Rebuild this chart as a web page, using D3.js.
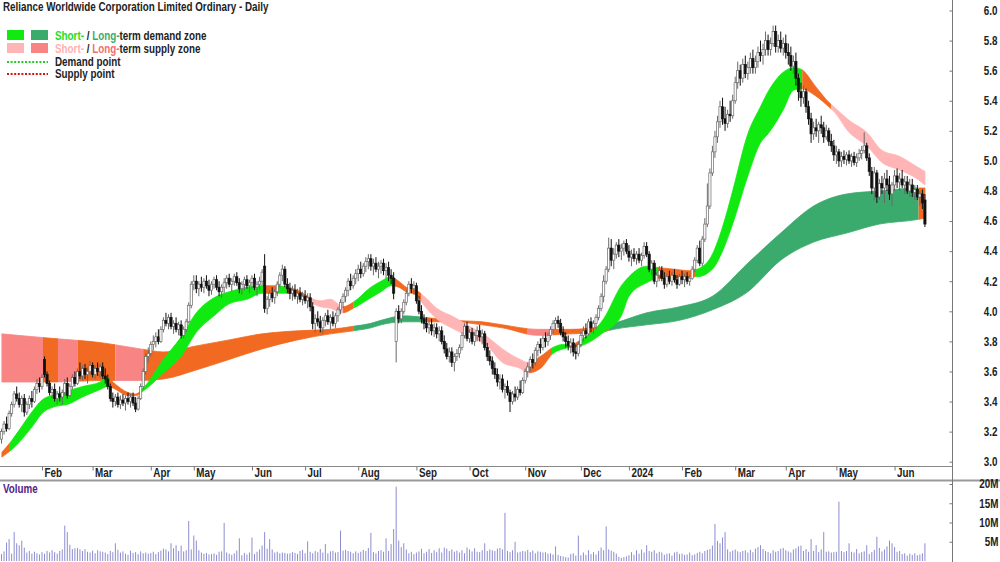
<!DOCTYPE html>
<html>
<head>
<meta charset="utf-8">
<script src="https://cdn.jsdelivr.net/npm/d3@7"></script>
<style>
body { margin: 0; background: #fff; }
svg { display: block; font-family: "Liberation Sans", Arial, sans-serif; font-weight: bold; }
</style>
</head>
<body>
<svg id="chart" width="1000" height="562"></svg>
<script>
// month ticks (trading-day index of first session of each month)
var monthIdx = [16, 36, 59, 76, 99, 120, 141, 164, 185, 207, 229, 248, 269, 290, 310, 330, 353];
var monthLabels = ["Feb", "Mar", "Apr", "May", "Jun", "Jul", "Aug", "Sep", "Oct", "Nov", "Dec", "2024", "Feb", "Mar", "Apr", "May", "Jun"];
var priceTicks = [3.0, 3.2, 3.4, 3.6, 3.8, 4.0, 4.2, 4.4, 4.6, 4.8, 5.0, 5.2, 5.4, 5.6, 5.8, 6.0];
var volTicks = [5, 10, 15, 20];

// daily candles [open, high, low, close]
var ohlc = [
[3.15,3.22,3.12,3.20],[3.20,3.27,3.18,3.25],[3.25,3.30,3.20,3.22],[3.22,3.34,3.21,3.32],[3.32,3.40,3.30,3.38],
[3.38,3.47,3.36,3.45],[3.45,3.50,3.40,3.42],[3.42,3.46,3.36,3.38],[3.38,3.44,3.33,3.42],[3.42,3.45,3.30,3.33],
[3.33,3.40,3.31,3.38],[3.38,3.44,3.35,3.42],[3.42,3.47,3.36,3.40],[3.40,3.50,3.39,3.48],[3.48,3.55,3.45,3.52],
[3.52,3.56,3.46,3.50],
[3.50,3.58,3.48,3.56],[3.68,3.70,3.56,3.58],[3.58,3.60,3.50,3.52],[3.52,3.54,3.44,3.46],[3.46,3.50,3.42,3.48],
[3.48,3.52,3.40,3.42],[3.42,3.47,3.38,3.45],[3.45,3.50,3.40,3.43],[3.43,3.48,3.38,3.46],[3.46,3.55,3.44,3.52],
[3.52,3.56,3.42,3.44],[3.44,3.52,3.43,3.50],[3.50,3.58,3.48,3.56],[3.56,3.60,3.50,3.52],[3.52,3.62,3.51,3.60],
[3.60,3.66,3.55,3.57],[3.57,3.64,3.54,3.62],[3.62,3.65,3.55,3.58],[3.58,3.63,3.52,3.60],[3.60,3.67,3.58,3.64],
[3.64,3.66,3.56,3.58],[3.58,3.64,3.55,3.62],[3.62,3.66,3.57,3.60],[3.60,3.65,3.56,3.63],[3.63,3.66,3.55,3.57],
[3.57,3.62,3.52,3.55],[3.55,3.58,3.48,3.50],[3.50,3.52,3.40,3.42],[3.42,3.46,3.36,3.40],[3.40,3.45,3.37,3.43],
[3.43,3.46,3.36,3.38],[3.38,3.44,3.35,3.41],[3.41,3.45,3.37,3.39],[3.39,3.44,3.34,3.42],[3.42,3.46,3.38,3.40],
[3.40,3.45,3.36,3.43],[3.43,3.46,3.37,3.39],[3.39,3.43,3.33,3.35],[3.35,3.44,3.34,3.42],[3.42,3.52,3.41,3.50],
[3.50,3.62,3.48,3.60],[3.60,3.72,3.58,3.70],[3.70,3.76,3.66,3.72],
[3.72,3.80,3.70,3.78],[3.78,3.84,3.74,3.80],[3.80,3.86,3.76,3.83],[3.83,3.88,3.78,3.80],[3.80,3.90,3.79,3.88],
[3.88,3.96,3.86,3.94],[3.94,3.99,3.90,3.92],[3.92,3.98,3.88,3.96],[3.96,3.99,3.88,3.90],[3.90,3.94,3.85,3.92],
[3.92,3.96,3.86,3.88],[3.88,3.93,3.84,3.91],[3.91,3.94,3.82,3.84],[3.84,3.90,3.82,3.88],[3.88,3.95,3.86,3.93],
[3.93,4.06,3.92,4.04],[4.04,4.20,4.02,4.18],
[4.18,4.24,4.14,4.20],[4.20,4.24,4.12,4.15],[4.15,4.20,4.10,4.18],[4.18,4.23,4.13,4.16],[4.16,4.22,4.12,4.20],
[4.20,4.24,4.15,4.17],[4.17,4.21,4.10,4.14],[4.14,4.20,4.11,4.18],[4.18,4.23,4.15,4.21],[4.21,4.24,4.14,4.16],
[4.16,4.20,4.10,4.13],[4.13,4.18,4.09,4.16],[4.16,4.22,4.12,4.19],[4.19,4.24,4.15,4.22],[4.22,4.25,4.16,4.18],
[4.18,4.22,4.13,4.20],[4.20,4.25,4.17,4.23],[4.23,4.26,4.17,4.19],[4.19,4.22,4.12,4.15],[4.15,4.20,4.11,4.18],
[4.18,4.23,4.14,4.21],[4.21,4.24,4.15,4.17],[4.17,4.21,4.12,4.19],
[4.19,4.24,4.15,4.22],[4.22,4.25,4.14,4.16],[4.16,4.20,4.10,4.18],[4.18,4.23,4.14,4.20],[4.20,4.28,4.17,4.26],
[4.30,4.38,3.99,4.02],[4.02,4.10,3.98,4.08],[4.08,4.14,4.03,4.12],[4.12,4.16,4.06,4.09],[4.09,4.15,4.05,4.13],
[4.13,4.20,4.10,4.18],[4.18,4.26,4.16,4.24],[4.24,4.31,4.20,4.28],[4.28,4.30,4.16,4.18],[4.18,4.22,4.12,4.15],
[4.15,4.19,4.08,4.12],[4.12,4.17,4.07,4.14],[4.14,4.18,4.08,4.10],[4.10,4.15,4.05,4.12],[4.12,4.16,4.06,4.08],
[4.08,4.13,4.04,4.10],
[4.10,4.14,4.05,4.07],[4.07,4.12,4.02,4.09],[4.09,4.12,4.00,4.03],[4.03,4.06,3.88,3.92],[3.92,3.98,3.86,3.95],
[3.95,4.00,3.90,3.93],[3.93,3.97,3.86,3.89],[3.89,3.96,3.85,3.94],[3.94,3.99,3.90,3.97],[3.97,4.01,3.91,3.93],
[3.93,3.98,3.88,3.96],[3.96,4.00,3.90,3.92],[3.92,3.99,3.89,3.97],[3.97,4.03,3.93,4.01],[4.01,4.08,3.98,4.06],
[4.06,4.12,4.02,4.10],[4.10,4.16,4.06,4.14],[4.14,4.22,4.10,4.20],[4.20,4.25,4.14,4.17],[4.17,4.24,4.15,4.22],
[4.22,4.28,4.18,4.25],
[4.25,4.31,4.20,4.28],[4.28,4.33,4.22,4.25],[4.25,4.32,4.23,4.30],[4.30,4.36,4.26,4.33],[4.33,4.38,4.28,4.35],
[4.35,4.38,4.27,4.30],[4.30,4.35,4.24,4.32],[4.32,4.36,4.26,4.28],[4.28,4.33,4.22,4.30],[4.30,4.34,4.25,4.32],
[4.32,4.35,4.24,4.27],[4.27,4.32,4.22,4.29],[4.29,4.33,4.20,4.24],[4.24,4.28,4.18,4.22],[4.22,4.26,4.08,4.12],
[3.80,4.02,3.66,4.00],[4.00,4.04,3.92,3.95],[3.95,4.02,3.92,4.00],[4.00,4.08,3.98,4.06],[4.06,4.14,4.04,4.12],
[4.12,4.20,4.10,4.18],[4.18,4.22,4.12,4.15],[4.15,4.20,4.11,4.17],
[4.17,4.19,4.05,4.07],[4.07,4.10,3.98,4.00],[4.00,4.04,3.92,3.95],[3.95,3.98,3.88,3.92],[3.92,3.96,3.86,3.89],
[3.89,3.94,3.85,3.91],[3.91,3.95,3.84,3.87],[3.87,3.92,3.83,3.89],[3.89,3.92,3.82,3.85],[3.85,3.90,3.80,3.87],
[3.87,3.90,3.78,3.80],[3.80,3.84,3.72,3.75],[3.75,3.79,3.68,3.70],[3.70,3.76,3.66,3.73],[3.73,3.76,3.63,3.66],
[3.66,3.72,3.60,3.70],[3.70,3.75,3.67,3.72],[3.72,3.78,3.69,3.76],[3.76,3.86,3.74,3.84],[3.84,3.92,3.82,3.90],
[3.90,3.93,3.80,3.82],
[3.82,3.88,3.79,3.86],[3.86,3.89,3.78,3.80],[3.80,3.86,3.77,3.84],[3.84,3.90,3.80,3.87],[3.87,3.91,3.80,3.83],
[3.83,3.88,3.78,3.85],[3.85,3.87,3.74,3.76],[3.76,3.79,3.67,3.70],[3.70,3.74,3.64,3.67],[3.67,3.70,3.58,3.62],
[3.62,3.66,3.55,3.58],[3.58,3.62,3.50,3.53],[3.53,3.58,3.48,3.55],[3.55,3.58,3.46,3.48],[3.48,3.52,3.42,3.50],
[3.50,3.54,3.44,3.46],[3.46,3.48,3.33,3.40],[3.40,3.47,3.38,3.45],[3.45,3.50,3.40,3.43],[3.43,3.50,3.41,3.48],
[3.48,3.54,3.44,3.46],[3.46,3.56,3.45,3.54],
[3.54,3.62,3.52,3.60],[3.60,3.66,3.56,3.63],[3.63,3.70,3.60,3.68],[3.68,3.72,3.62,3.66],[3.66,3.76,3.64,3.74],
[3.74,3.80,3.70,3.78],[3.78,3.82,3.72,3.76],[3.76,3.84,3.74,3.82],[3.82,3.86,3.76,3.80],[3.80,3.86,3.77,3.84],
[3.84,3.90,3.81,3.88],[3.88,3.94,3.85,3.92],[3.92,3.96,3.88,3.94],[3.94,3.97,3.89,3.92],[3.92,3.95,3.84,3.86],
[3.86,3.90,3.80,3.83],[3.83,3.86,3.76,3.80],[3.80,3.84,3.74,3.77],[3.77,3.82,3.72,3.79],[3.79,3.82,3.70,3.73],
[3.73,3.78,3.68,3.72],[3.72,3.80,3.70,3.78],
[3.78,3.86,3.76,3.84],[3.84,3.90,3.80,3.87],[3.87,3.92,3.82,3.85],[3.85,3.95,3.84,3.93],[3.93,3.96,3.86,3.89],
[3.89,3.94,3.85,3.92],[3.92,3.98,3.88,3.96],[3.96,4.04,3.94,4.02],[4.02,4.12,4.00,4.10],[4.10,4.24,4.06,4.20],
[4.20,4.30,4.18,4.28],[4.28,4.49,4.26,4.42],[4.42,4.48,4.30,4.34],[4.34,4.42,4.28,4.38],[4.38,4.46,4.35,4.44],
[4.44,4.48,4.36,4.40],[4.40,4.45,4.34,4.42],[4.42,4.47,4.37,4.45],[4.45,4.48,4.38,4.40],
[4.40,4.44,4.33,4.36],[4.36,4.41,4.30,4.38],[4.38,4.42,4.33,4.35],[4.35,4.40,4.31,4.38],[4.38,4.42,4.32,4.34],
[4.34,4.39,4.30,4.37],[4.37,4.46,4.35,4.43],[4.43,4.46,4.36,4.38],[4.38,4.40,4.26,4.28],[4.28,4.34,4.24,4.32],
[4.32,4.34,4.18,4.20],[4.20,4.26,4.16,4.24],[4.24,4.30,4.20,4.27],[4.27,4.30,4.20,4.22],[4.22,4.26,4.15,4.18],
[4.18,4.25,4.16,4.23],[4.23,4.27,4.18,4.20],[4.20,4.26,4.17,4.24],[4.24,4.28,4.19,4.21],[4.21,4.24,4.15,4.18],
[4.18,4.25,4.17,4.23],
[4.23,4.27,4.18,4.21],[4.21,4.25,4.16,4.23],[4.23,4.26,4.18,4.20],[4.20,4.24,4.17,4.22],[4.22,4.30,4.21,4.28],
[4.28,4.36,4.26,4.34],[4.34,4.44,4.32,4.42],[4.42,4.47,4.30,4.32],[4.32,4.50,4.30,4.48],[4.48,4.62,4.46,4.58],
[4.58,4.85,4.56,4.70],[4.70,4.95,4.68,4.92],[4.92,5.10,4.90,5.06],[5.06,5.20,5.02,5.16],[5.16,5.30,5.12,5.26],
[5.26,5.40,5.22,5.36],[5.36,5.42,5.24,5.28],[5.28,5.36,5.20,5.25],[5.25,5.34,5.22,5.31],[5.31,5.40,5.26,5.30],
[5.30,5.44,5.28,5.40],
[5.40,5.56,5.38,5.52],[5.52,5.66,5.48,5.60],[5.60,5.64,5.50,5.55],[5.55,5.68,5.52,5.64],[5.64,5.70,5.55,5.58],
[5.58,5.66,5.54,5.62],[5.62,5.72,5.58,5.68],[5.68,5.74,5.58,5.62],[5.62,5.70,5.58,5.66],[5.66,5.76,5.62,5.72],
[5.72,5.80,5.66,5.70],[5.70,5.78,5.64,5.74],[5.74,5.86,5.70,5.80],[5.80,5.84,5.70,5.74],[5.74,5.82,5.70,5.78],
[5.78,5.90,5.76,5.86],[5.86,5.90,5.72,5.76],[5.76,5.84,5.72,5.80],[5.80,5.86,5.72,5.75],[5.75,5.82,5.70,5.78],
[5.78,5.84,5.68,5.72],[5.72,5.78,5.64,5.70],[5.70,5.76,5.60,5.63],[5.63,5.70,5.58,5.66],[5.66,5.72,5.50,5.55],
[5.55,5.58,5.40,5.46],[5.46,5.52,5.36,5.42],[5.42,5.50,5.38,5.46],[5.46,5.48,5.32,5.36],[5.36,5.40,5.24,5.28],
[5.28,5.32,5.12,5.18],[5.18,5.26,5.14,5.22],[5.22,5.28,5.16,5.20],[5.20,5.26,5.12,5.24],[5.24,5.30,5.18,5.22],
[5.22,5.26,5.12,5.16],[5.16,5.24,5.14,5.20],[5.20,5.22,5.10,5.13],[5.13,5.18,5.06,5.10],[5.10,5.14,5.00,5.04],
[5.04,5.10,4.98,5.06],[5.06,5.08,4.96,5.00],[5.00,5.06,4.96,5.03],[5.03,5.07,4.98,5.01],[5.01,5.06,4.97,5.04],
[5.04,5.07,4.98,5.00],[5.00,5.05,4.96,5.03],[5.03,5.06,4.97,4.99],[4.99,5.05,4.96,5.02],[5.02,5.08,5.00,5.05],
[5.05,5.10,5.01,5.07],[5.07,5.19,5.05,5.10],[5.10,5.12,5.00,5.02],[5.02,5.05,4.90,4.93],[4.93,4.96,4.78,4.82],
[4.82,4.96,4.74,4.92],[4.92,4.94,4.72,4.76],[4.76,4.88,4.74,4.85],[4.85,4.90,4.78,4.82],[4.82,4.92,4.72,4.88],
[4.88,4.94,4.80,4.84],[4.84,4.90,4.74,4.78],[4.78,4.86,4.70,4.84],
[4.84,4.94,4.80,4.90],[4.90,4.95,4.82,4.86],[4.86,4.92,4.80,4.88],[4.88,4.94,4.82,4.84],[4.84,4.90,4.78,4.86],
[4.86,4.90,4.78,4.80],[4.80,4.88,4.76,4.84],[4.84,4.88,4.76,4.79],[4.79,4.84,4.74,4.81],[4.81,4.84,4.74,4.76],
[4.76,4.80,4.70,4.78],[4.78,4.81,4.68,4.72],[4.74,4.78,4.56,4.58]
];

// daily volume, millions
var volume = [
1.8,2.5,4.8,5.7,1.9,7.5,4.6,4.1,5.3,3.5,2.2,2.6,1.9,2.4,2.0,1.7,2.3,1.9,2.6,2.2,
2.8,2.3,1.9,2.6,3.0,9.2,7.5,4.2,3.1,3.3,3.4,3.0,2.6,3.1,2.4,2.2,2.7,2.0,2.8,2.5,
2.4,2.2,1.8,2.6,2.3,4.6,2.9,2.2,2.5,1.9,1.6,2.7,2.1,2.3,1.8,2.5,2.0,2.2,1.9,2.1,
2.4,1.8,2.3,2.7,3.2,3.0,2.5,4.6,3.3,4.1,2.6,4.0,2.5,2.8,10.4,3.0,6.6,5.3,2.8,2.2,
1.9,2.1,1.7,1.8,2.0,1.6,2.4,2.5,9.9,2.2,1.9,1.6,2.0,2.7,5.9,1.5,2.1,1.7,2.2,6.1,
1.8,2.4,3.0,4.0,7.5,3.2,5.7,3.0,2.2,2.4,2.0,2.2,2.1,1.9,2.0,2.3,2.1,1.8,2.6,2.9,
2.0,5.1,2.4,2.0,2.6,2.3,3.1,2.2,4.4,2.0,2.5,2.6,2.2,2.3,7.9,2.7,2.9,2.6,2.4,2.0,
2.5,2.1,2.4,2.9,2.6,3.4,7.3,2.3,2.0,2.6,2.8,2.4,5.9,2.6,4.4,8.3,19.3,5.3,3.6,4.6,
3.0,2.0,2.4,1.8,2.2,2.5,3.2,2.0,2.4,3.1,2.1,2.8,2.3,3.3,2.2,3.5,3.2,2.6,3.0,2.4,
2.7,2.2,2.8,2.0,3.5,3.0,2.5,3.3,2.4,2.3,2.8,4.6,2.6,3.0,2.8,2.6,3.2,3.4,3.0,12.5,
2.6,2.3,2.8,5.0,2.2,2.4,2.6,2.5,2.9,2.3,2.7,2.0,2.5,2.4,2.2,2.3,1.9,2.0,1.7,3.8,
1.6,1.3,1.2,1.0,0.9,1.8,2.0,1.4,6.6,1.5,2.2,1.6,2.8,1.8,2.3,1.7,2.6,3.5,2.8,9.0,
3.0,2.7,2.4,1.9,1.1,0.8,1.0,1.2,1.5,2.3,1.6,2.8,1.9,3.0,2.2,4.1,2.6,2.4,2.8,2.0,
2.4,2.2,1.6,1.9,2.0,1.4,2.2,2.4,1.8,1.9,1.6,1.7,2.2,1.5,1.7,2.1,2.4,2.0,2.6,2.9,
3.1,4.0,9.6,5.2,4.6,6.1,7.5,3.0,2.4,2.7,3.0,2.5,2.3,2.6,2.8,2.2,2.9,2.3,3.2,3.6,
4.1,3.1,2.6,2.3,2.0,2.8,2.4,2.6,3.2,3.4,2.8,2.5,2.2,3.0,3.3,3.8,4.0,2.6,3.1,2.4,
5.7,2.6,4.1,2.3,3.0,7.5,2.4,2.5,2.2,2.3,2.4,15.4,2.6,2.3,2.6,4.6,2.4,2.2,3.1,2.0,
2.3,2.5,4.1,1.8,2.3,2.9,6.3,3.4,2.5,3.0,3.8,5.3,4.6,3.6,2.4,2.6,1.8,2.0,1.4,1.9,
1.6,2.0,1.5,1.7,2.0,4.6
];

// short-term zone: index, upper edge, lower edge
var stIdx   = [0,4,7,12,16,22,26,32,39,42,44,50,53,56,64,71,77,84,90,97,103,109,113,117,121,126,130,135,139,146,150,154,157,160,164,167,172,179,185,192,198,205,208,213,218,222,225,229,238,245,248,255,260,266,272,275,281,285,289,295,300,303,309,313,316,322,327,329,335,342,348,355,362,365];
var stUpper = [3.06,3.14,3.21,3.33,3.41,3.45,3.47,3.50,3.53,3.56,3.53,3.46,3.45,3.49,3.68,3.83,3.99,4.09,4.13,4.16,4.17,4.17,4.16,4.14,4.10,4.07,4.08,4.03,4.06,4.16,4.20,4.23,4.20,4.16,4.14,4.10,4.02,3.96,3.90,3.83,3.75,3.68,3.66,3.70,3.76,3.78,3.78,3.81,3.95,4.17,4.23,4.30,4.29,4.28,4.27,4.28,4.38,4.56,4.80,5.18,5.36,5.46,5.59,5.62,5.61,5.49,5.39,5.36,5.27,5.19,5.07,5.03,4.96,4.93];
var stLower = [3.03,3.08,3.13,3.23,3.32,3.37,3.38,3.43,3.48,3.50,3.49,3.44,3.44,3.47,3.59,3.70,3.86,3.97,4.05,4.08,4.12,4.12,4.12,4.11,4.07,4.03,4.02,3.99,4.02,4.09,4.13,4.17,4.16,4.13,4.11,4.04,3.95,3.88,3.83,3.77,3.66,3.62,3.59,3.62,3.72,3.75,3.76,3.77,3.86,3.97,4.10,4.19,4.22,4.22,4.23,4.23,4.28,4.40,4.58,4.90,5.12,5.18,5.34,5.47,5.48,5.43,5.36,5.33,5.19,5.10,4.99,4.94,4.88,4.84];
// zone colour by index range: g demand, p supply, o neutral
var stSegs = [[0,3,"o"],[3,42.5,"g"],[42.5,55.5,"o"],[55.5,103.8,"g"],[103.8,108.9,"o"],[108.9,112.8,"g"],[112.8,120.8,"o"],[120.8,135,"p"],[135,139,"o"],[139,154.7,"g"],[154.7,166,"o"],[166,208.5,"p"],[208.5,217.6,"o"],[217.6,224.7,"g"],[224.7,228.7,"o"],[228.7,259.5,"g"],[259.5,274.1,"o"],[274.1,316.5,"g"],[316.5,328,"o"],[328,365.5,"p"]];

// long-term zone
var ltIdx   = [0,20,40,55,64,77,90,103,117,130,139,146,150,159,167,178,190,198,212,225,237,242,255,268,281,295,308,321,334,347,362,365];
var ltUpper = [3.85,3.82,3.79,3.75,3.73,3.77,3.81,3.85,3.87,3.88,3.90,3.92,3.94,3.97,3.96,3.94,3.93,3.91,3.88,3.88,3.90,3.92,3.99,4.03,4.10,4.32,4.52,4.70,4.78,4.80,4.82,4.82];
var ltLower = [3.53,3.53,3.54,3.54,3.55,3.61,3.68,3.75,3.81,3.85,3.87,3.89,3.91,3.93,3.93,3.93,3.91,3.89,3.84,3.85,3.86,3.88,3.91,3.94,4.01,4.13,4.34,4.46,4.52,4.58,4.61,4.62];
var ltSegs = [[0,16.4,"P"],[16.4,22.3,"o"],[22.3,30,"P"],[30,45,"o"],[45,56,"P"],[56,139,"o"],[139,167,"G"],[167,208,"o"],[208,218,"P"],[218,240,"o"],[240,362.5,"G"],[362.5,365.5,"o"]];

var zoneColors = { g: "#10ea10", G: "#3aab6c", p: "#ffb5b5", P: "#f88484", o: "#f26a22" };

var axisX = 952, priceBottom = 466;
var narrow = 0.82; // horizontal squeeze to mimic the narrow bold face
var svg = d3.select("#chart");
var defs = svg.append("defs");

var x = d3.scaleLinear().domain([-0.6, 375.7]).range([0, axisX]);
var y = d3.scaleLinear().domain([3, 6]).range([461.7, 10.5]);
var yv = d3.scaleLinear().domain([0, 20]).range([561, 484]);

function drawZone(g, idx, up, lo, segs, name) {
  var pts = idx.map(function(d, i) { return { i: d, u: up[i], l: lo[i] }; });
  var area = d3.area()
    .x(function(d) { return x(d.i); })
    .y0(function(d) { return y(d.l); })
    .y1(function(d) { return y(d.u); })
    .curve(d3.curveMonotoneX);
  var path = area(pts);
  segs.forEach(function(s, k) {
    var id = name + k;
    defs.append("clipPath").attr("id", id)
      .append("rect")
      .attr("x", x(s[0])).attr("y", 0)
      .attr("width", x(s[1]) - x(s[0])).attr("height", priceBottom);
    g.append("path")
      .attr("d", path)
      .attr("fill", zoneColors[s[2]])
      .attr("stroke", zoneColors[s[2]])
      .attr("stroke-width", 0.8)
      .attr("clip-path", "url(#" + id + ")");
  });
}

var zones = svg.append("g");
drawZone(zones, ltIdx, ltUpper, ltLower, ltSegs, "lt");
drawZone(zones, stIdx, stUpper, stLower, stSegs, "st");

// candles
var candles = svg.append("g").selectAll("g")
  .data(ohlc)
  .enter().append("g");

candles.append("line")
  .attr("x1", function(d, i) { return x(i); })
  .attr("x2", function(d, i) { return x(i); })
  .attr("y1", function(d) { return y(d[1]); })
  .attr("y2", function(d) { return y(d[2]); })
  .attr("stroke", function(d) { return d[3] >= d[0] ? "#6a6a6a" : "#111"; })
  .attr("stroke-width", 1);

candles.append("rect")
  .attr("x", function(d, i) { return x(i) - 1.1; })
  .attr("width", 2.2)
  .attr("y", function(d) { return y(Math.max(d[0], d[3])); })
  .attr("height", function(d) { return Math.max(0.8, Math.abs(y(d[0]) - y(d[3]))); })
  .attr("fill", function(d) { return d[3] >= d[0] ? "#fff" : "#111"; })
  .attr("stroke", function(d) { return d[3] >= d[0] ? "#6a6a6a" : "#111"; })
  .attr("stroke-width", 0.7);

// volume bars
svg.append("g").selectAll("line")
  .data(volume)
  .enter().append("line")
  .attr("x1", function(d, i) { return x(i); })
  .attr("x2", function(d, i) { return x(i); })
  .attr("y1", yv(0))
  .attr("y2", function(d) { return yv(d); })
  .attr("stroke", "#8c8cd0")
  .attr("stroke-width", 1);

// frame lines
svg.append("line").attr("x1", 0).attr("x2", axisX).attr("y1", priceBottom + 0.5).attr("y2", priceBottom + 0.5)
  .attr("stroke", "#888").attr("stroke-width", 1);
svg.append("line").attr("x1", 0).attr("x2", 1000).attr("y1", 480.5).attr("y2", 480.5)
  .attr("stroke", "#999").attr("stroke-width", 2);
svg.append("line").attr("x1", axisX + 0.5).attr("x2", axisX + 0.5).attr("y1", 0).attr("y2", 562)
  .attr("stroke", "#777").attr("stroke-width", 1);

// date axis
var xAxis = svg.append("g")
  .attr("transform", "translate(0," + (priceBottom + 0.5) + ")")
  .call(d3.axisBottom(x).tickValues(monthIdx).tickFormat(function(d, i) { return monthLabels[i]; }).tickSize(4));
xAxis.select(".domain").remove();
xAxis.selectAll(".tick line").attr("stroke", "#777");
xAxis.selectAll(".tick text")
  .attr("text-anchor", "start").attr("x", 0).attr("y", 2).attr("dy", "0.71em")
  .attr("transform", "translate(2,0) scale(" + narrow + ",1)")
  .attr("fill", "#222").style("font-size", "12px");

// price axis
var yAxis = svg.append("g")
  .attr("transform", "translate(" + (axisX + 0.5) + ",0)")
  .call(d3.axisRight(y).tickValues(priceTicks).tickFormat(d3.format(".1f")).tickSize(-3));
yAxis.select(".domain").remove();
yAxis.selectAll(".tick line").attr("stroke", "#777");
yAxis.selectAll(".tick text")
  .attr("text-anchor", "end").attr("x", 0)
  .attr("transform", "translate(45,0) scale(" + narrow + ",1)")
  .attr("fill", "#222").style("font-size", "12px");

// volume axis
var vAxis = svg.append("g")
  .attr("transform", "translate(" + (axisX + 0.5) + ",0)")
  .call(d3.axisRight(yv).tickValues(volTicks).tickFormat(function(d) { return d + "M"; }).tickSize(-3));
vAxis.select(".domain").remove();
vAxis.selectAll(".tick line").attr("stroke", "#777");
vAxis.selectAll(".tick text")
  .attr("text-anchor", "end").attr("x", 0)
  .attr("transform", "translate(46,0) scale(" + narrow + ",1)")
  .attr("fill", "#222").style("font-size", "12px");

// title and labels
svg.append("text").attr("x", 0).attr("y", 11)
  .attr("transform", "translate(3,0) scale(" + narrow + ",1)")
  .style("font-size", "12px").attr("fill", "#222")
  .text("Reliance Worldwide Corporation Limited Ordinary - Daily");

svg.append("text").attr("x", 0).attr("y", 493)
  .attr("transform", "translate(3,0) scale(" + narrow + ",1)")
  .style("font-size", "12px").attr("fill", "#552288")
  .text("Volume");

// legend
var legend = svg.append("g");
legend.append("rect").attr("x", 7).attr("y", 30).attr("width", 17).attr("height", 10).attr("fill", zoneColors.g);
legend.append("rect").attr("x", 31).attr("y", 30).attr("width", 17).attr("height", 10).attr("fill", zoneColors.G);
legend.append("rect").attr("x", 7).attr("y", 43).attr("width", 17).attr("height", 10).attr("fill", zoneColors.p);
legend.append("rect").attr("x", 31).attr("y", 43).attr("width", 17).attr("height", 10).attr("fill", zoneColors.P);
legend.append("line").attr("x1", 7).attr("x2", 48).attr("y1", 62).attr("y2", 62)
  .attr("stroke", "#22cc22").attr("stroke-width", 2).attr("stroke-dasharray", "2,1.6");
legend.append("line").attr("x1", 7).attr("x2", 48).attr("y1", 74).attr("y2", 74)
  .attr("stroke", "#dd1111").attr("stroke-width", 2).attr("stroke-dasharray", "2,1.6");

var legendRows = [
  { y: 40, parts: [["Short-", "#22e022"], [" / ", "#222"], ["Long-", "#3aab6c"], ["term demand zone", "#222"]] },
  { y: 53, parts: [["Short-", "#ffb0b0"], [" / ", "#222"], ["Long-", "#f07070"], ["term supply zone", "#222"]] },
  { y: 66, parts: [["Demand point", "#222"]] },
  { y: 78, parts: [["Supply point", "#222"]] }
];
legendRows.forEach(function(r) {
  var t = legend.append("text").attr("x", 0).attr("y", r.y)
    .attr("transform", "translate(55,0) scale(" + narrow + ",1)")
    .style("font-size", "12px");
  r.parts.forEach(function(p) {
    t.append("tspan").attr("fill", p[1]).text(p[0]);
  });
});
</script>
</body>
</html>
